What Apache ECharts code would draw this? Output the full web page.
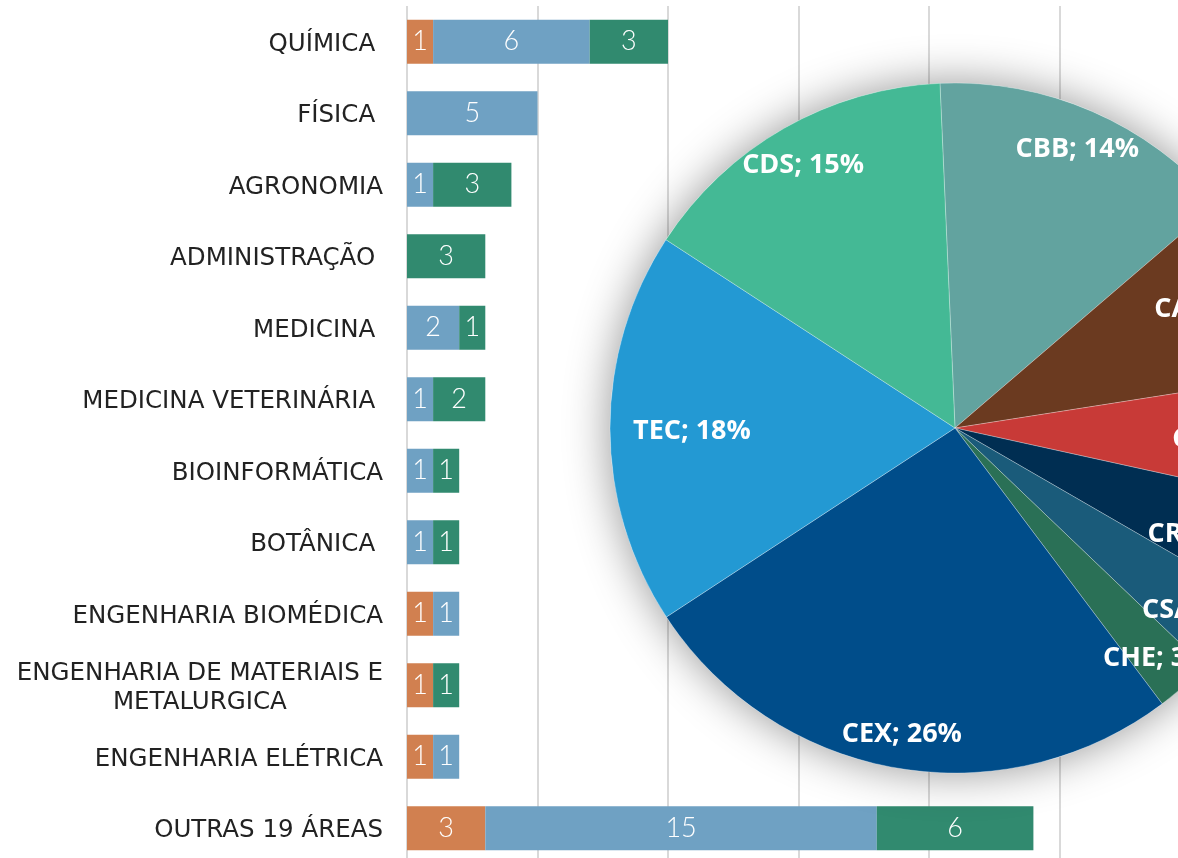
<!DOCTYPE html>
<html>
<head>
<meta charset="utf-8">
<script src="https://cdn.jsdelivr.net/npm/echarts@6/dist/echarts.min.js"></script>
<style>
  html, body { margin: 0; padding: 0; background: #ffffff; }
  #chart { width: 1178px; height: 858px; }
</style>
</head>
<body>
<div id="chart"></div>
<script>
// ---- Data ----
const categories = [
  'QUÍMICA ', 'FÍSICA ', 'AGRONOMIA', 'ADMINISTRAÇÃO ', 'MEDICINA ',
  'MEDICINA VETERINÁRIA ', 'BIOINFORMÁTICA', 'BOTÂNICA ', 'ENGENHARIA BIOMÉDICA',
  'ENGENHARIA DE MATERIAIS E\nMETALURGICA', 'ENGENHARIA ELÉTRICA', 'OUTRAS 19 ÁREAS'
];
const seriesNames = ['Série 1', 'Série 2', 'Série 3'];
const valuesOrange = [1, 0, 0, 0, 0, 0, 0, 0, 1, 1, 1, 3];
const valuesBlue   = [6, 5, 1, 0, 2, 1, 1, 1, 1, 0, 1, 15];
const valuesGreen  = [3, 0, 3, 3, 1, 2, 1, 1, 0, 1, 0, 6];
const xTicks = [0, 5, 10, 15, 20, 25, 30];

const pieNames  = ['CBB', 'CAGR', 'CCT', 'CRNAT', 'CSA', 'CHE', 'CEX', 'TEC', 'CDS'];
const pieValues = [14.4, 8.8, 5.9, 4.9, 3.8, 2.6, 26.0, 18.4, 15.1];

// ---- Styles ----
const barColors = ['#D18050', '#6FA1C3', '#318A6F'];
const pieColors = ['#62A39F', '#6B3A20', '#C83A37', '#002E52', '#1A5B7A', '#2A7056', '#004D8A', '#2399D3', '#44B995'];
const PIE_CX = 955, PIE_CY = 428, PIE_R = 345, PIE_GAP = 23, PIE_LABEL_DY = 3;
const catFont = { fontFamily: 'DejaVu Sans', fontSize: 24.5, color: '#222222' };

const chart = echarts.init(document.getElementById('chart'), null, { renderer: 'canvas' });

function barSeries(name, values, color) {
  return {
    name: name,
    type: 'bar',
    stack: 'total',
    barWidth: 44,
    data: values,
    itemStyle: { color: color },
    label: {
      show: true,
      position: 'inside',
      color: '#ffffff',
      fontFamily: 'Lato',
      fontWeight: 300,
      fontSize: 27,
      padding: [4, 0, 0, 0],
      formatter: p => (p.value ? String(p.value) : '')
    },
    z: 2
  };
}

const option = {
  backgroundColor: '#ffffff',
  animation: false,
  grid: { left: 407, right: -12, top: 6, bottom: -6, outerBoundsMode: 'none', containLabel: false },
  xAxis: {
    type: 'value',
    min: xTicks[0],
    max: xTicks[xTicks.length - 1],
    interval: xTicks[1] - xTicks[0],
    axisLabel: { show: false },
    axisLine: { show: false },
    axisTick: { show: false },
    splitLine: { show: true, lineStyle: { color: '#D9D9D9', width: 2 } }
  },
  yAxis: {
    type: 'category',
    inverse: true,
    data: categories,
    axisLine: { show: false },
    axisTick: { show: false },
    axisLabel: {
      margin: 24,
      fontFamily: catFont.fontFamily,
      fontSize: catFont.fontSize,
      color: catFont.color,
      lineHeight: 29,
      padding: [5, 0, 0, 0],
      formatter: function (v) {
        if (v.indexOf('\n') >= 0) {
          return v.split('\n').map(s => '{c|' + s + '}').join('\n');
        }
        return v;
      },
      rich: {
        c: {
          align: 'center',
          fontFamily: catFont.fontFamily,
          fontSize: catFont.fontSize,
          color: catFont.color,
          lineHeight: 29
        }
      }
    }
  },
  series: [
    barSeries(seriesNames[0], valuesOrange, barColors[0]),
    barSeries(seriesNames[1], valuesBlue, barColors[1]),
    barSeries(seriesNames[2], valuesGreen, barColors[2]),
    {
      // soft shadow behind the pie
      type: 'pie',
      silent: true,
      center: [PIE_CX, PIE_CY],
      radius: PIE_R,
      data: [{ value: 1, name: '' }],
      label: { show: false },
      labelLine: { show: false },
      itemStyle: { color: '#ffffff', shadowBlur: 45, shadowColor: 'rgba(0,0,0,0.42)' },
      z: 3
    },
    {
      type: 'pie',
      center: [PIE_CX, PIE_CY],
      radius: PIE_R,
      startAngle: 92.5,
      clockwise: true,
      percentPrecision: 0,
      avoidLabelOverlap: false,
      data: pieNames.map((n, i) => ({ name: n, value: pieValues[i], itemStyle: { color: pieColors[i] } })),
      itemStyle: { borderColor: 'rgba(255,255,255,0.35)', borderWidth: 0.8 },
      label: {
        show: true,
        position: 'inside',
        formatter: '{b}; {d}%',
        color: '#ffffff',
        fontFamily: 'Open Sans',
        fontWeight: 'bold',
        fontSize: 27
      },
      labelLine: { show: false },
      labelLayout: function (params) {
        const r = params.labelRect;
        const cx = r.x + r.width / 2, cy = r.y + r.height / 2;
        let dx = cx - PIE_CX, dy = cy - PIE_CY;
        const d = Math.hypot(dx, dy) || 1;
        const ux = dx / d, uy = dy / d;
        const hw = r.width / 2, hh = r.height / 2;
        const tx = Math.abs(ux) > 1e-6 ? hw / Math.abs(ux) : Infinity;
        const ty = Math.abs(uy) > 1e-6 ? hh / Math.abs(uy) : Infinity;
        const t = Math.min(tx, ty);
        const dist = PIE_R - PIE_GAP - t;
        return { x: PIE_CX + ux * dist, y: PIE_CY + uy * dist + PIE_LABEL_DY, align: 'center', verticalAlign: 'middle' };
      },
      z: 4
    }
  ]
};

chart.setOption(option);
</script>
</body>
</html>
